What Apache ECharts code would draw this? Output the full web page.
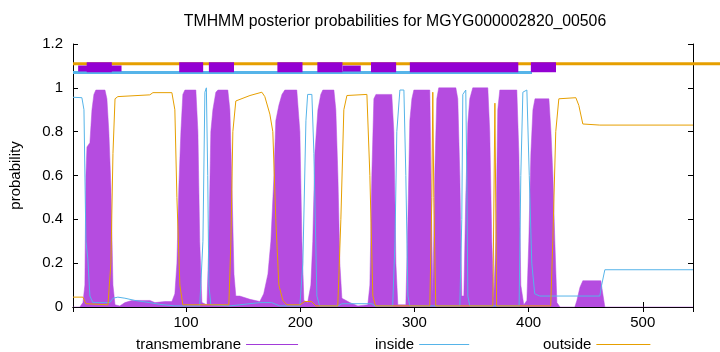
<!DOCTYPE html>
<html>
<head>
<meta charset="utf-8">
<script src="https://cdn.jsdelivr.net/npm/echarts@6/dist/echarts.min.js"></script>
<style>
  html, body { margin: 0; padding: 0; background: #fff; }
  #chart { width: 720px; height: 352px; }
</style>
</head>
<body>
<div id="chart"></div>
<script>
// posterior probabilities, [residue, probability]
var transmembrane = [[1,0],[7,0],[9.7,0.02],[11.4,0.1],[12.3,0.6],[13.2,0.73],[15.8,0.75],[17.6,0.9],[19.3,0.97],[21,0.99],[29,0.99],[30.7,0.95],[32.4,0.8],[34.2,0.55],[36,0.1],[37.8,0.01],[42,0.005],[46.5,0.02],[52.6,0.03],[68.3,0.03],[72.7,0.02],[81.5,0.025],[87.6,0.025],[90.2,0.06],[92,0.2],[93.7,0.55],[95.5,0.8],[97.2,0.97],[99,0.99],[108.6,0.99],[110.4,0.8],[112,0.3],[113.9,0.02],[118.3,0.01],[120,0.3],[121.7,0.8],[123.5,0.9],[126.1,0.98],[127.9,0.99],[136.6,0.99],[138.4,0.9],[140,0.6],[142,0.15],[143.6,0.05],[147,0.05],[156,0.035],[164.6,0.025],[168,0.06],[171.7,0.15],[174.3,0.3],[177,0.6],[178.6,0.85],[181.3,0.92],[184,0.97],[186.5,0.99],[197,0.99],[199.7,0.8],[201.5,0.3],[203.2,0.03],[206.5,0.02],[209.3,0.1],[211,0.3],[212.8,0.7],[215.5,0.9],[218,0.97],[219.8,0.99],[229.5,0.99],[231.2,0.9],[233,0.6],[234.7,0.2],[236.5,0.04],[243.5,0.02],[250.5,0.005],[259.2,0.01],[261,0.1],[262.7,0.6],[264.5,0.95],[266.3,0.97],[280.2,0.97],[282,0.8],[283.8,0.2],[285.5,0.01],[292.5,0.01],[294.3,0.4],[296,0.85],[297.8,0.95],[299.5,0.99],[313.5,0.99],[314.8,0.5],[316.1,0.05],[317.8,0.6],[319.6,0.95],[321.3,1],[336.3,1],[338,0.95],[339.8,0.6],[341.5,0.05],[343.3,0.05],[345,0.5],[346.8,0.84],[348.5,0.95],[351.1,1],[364.3,1],[366,0.8],[367.8,0.3],[369.5,0.04],[371.3,0.3],[373,0.9],[374.8,0.99],[389.7,0.99],[391.5,0.7],[393.2,0.1],[395.8,0.01],[398.5,0.03],[400.2,0.3],[402,0.7],[403.8,0.9],[405.6,0.95],[417.8,0.95],[419.6,0.8],[421.3,0.6],[423,0.3],[424.8,0.02],[427.5,0],[440.5,0],[442.3,0.03],[445,0.09],[447.5,0.12],[463.3,0.12],[465,0.06],[466.8,0],[544,0]];

var inside = [[1,0.957],[8.8,0.955],[10.6,0.9],[12.3,0.3],[14,0.22],[15.8,0.05],[18.4,0.02],[33.3,0.02],[36,0.04],[40.3,0.045],[46.5,0.04],[55.2,0.03],[68.3,0.02],[77,0.012],[90.2,0.005],[112,0.005],[114.8,0.3],[116.5,0.98],[117.8,1],[119,0.6],[120,0.1],[121.7,0.01],[138.4,0.005],[147,0.01],[164.6,0.02],[175,0.02],[182,0.005],[199.7,0.005],[202.3,0.2],[205,0.85],[206.5,0.97],[210.2,0.97],[212,0.7],[214.6,0.05],[217,0.005],[232.9,0.005],[236.5,0.015],[262.7,0.015],[265.4,0.005],[281,0.005],[283,0.3],[284.6,0.8],[287.3,0.99],[290.8,0.99],[292.5,0.6],[294.3,0.05],[296,0.005],[339.8,0.005],[341.5,0.4],[342.4,0.97],[345,0.99],[345.9,0.6],[346.8,0.05],[348.5,0.005],[391.7,0.005],[393.2,0.6],[395,0.98],[398.5,0.99],[400.6,0.6],[402.8,0.2],[405.4,0.06],[409.8,0.05],[462.4,0.05],[464,0.1],[466.8,0.17],[544,0.17]];

var outside = [[1,0.045],[9.7,0.045],[12.3,0.015],[14,0.01],[31.6,0.01],[34.2,0.2],[36,0.7],[37.8,0.95],[40.3,0.96],[68.3,0.968],[71,0.978],[87.6,0.978],[90.2,0.9],[92,0.5],[94.6,0.1],[97.2,0.01],[137.5,0.01],[139.3,0.3],[141,0.8],[143.6,0.94],[156,0.965],[166.4,0.98],[169,0.96],[173.4,0.88],[176,0.8],[178.6,0.4],[181.3,0.1],[184.8,0.03],[188.3,0.01],[199.7,0.01],[204,0.025],[210,0.025],[213.7,0.005],[232.9,0.005],[235.6,0.4],[238.2,0.9],[240.9,0.965],[258.4,0.97],[261,0.6],[263.6,0.05],[266,0.005],[313.5,0.005],[315.3,0.5],[316.1,0.98],[317,0.5],[318.7,0.005],[368.7,0.005],[370.5,0.93],[372,0.005],[419.4,0.005],[421.2,0.3],[423.8,0.8],[426.5,0.95],[441.4,0.955],[444,0.92],[447.5,0.835],[462.4,0.83],[544,0.83]];

// predicted topology segments, [start, end]
var outsideSeg = [[1,569]];
var insideSeg = [[1,403]];
var tmSeg = [[13,35],[94,115],[120,142],[180,202],[215,237],[262,284],[296,391],[402,424]];
var tmThinSeg = [[5.5,43.5],[237,253]];

function band(level, thick, color) {
  return function (params, api) {
    var p0 = api.coord([api.value(0), level]);
    var p1 = api.coord([api.value(1), level]);
    return {
      type: 'rect',
      shape: { x: p0[0], y: p0[1] - thick / 2, width: p1[0] - p0[0], height: thick },
      style: { fill: color }
    };
  };
}

var font = 'Liberation Sans';
var chart = echarts.init(document.getElementById('chart'));

var option = {
  animation: false,
  textStyle: { fontFamily: font },
  graphic: [{
    type: 'text', x: 395, y: 22,
    style: { text: 'TMHMM posterior probabilities for MGYG000002820_00506', fontSize: 15.8, fontFamily: font,
      fill: '#000', align: 'center', verticalAlign: 'middle' }
  }],
  legend: [
    { data: [{ name: 'transmembrane' }], left: 131, top: 332, align: 'right', icon: 'rect', itemWidth: 52, itemHeight: 1,
      textStyle: { fontSize: 15, fontFamily: font, color: '#000' } },
    { data: [{ name: 'inside' }], left: 370, top: 332, align: 'right', icon: 'rect', itemWidth: 50, itemHeight: 1,
      textStyle: { fontSize: 15, fontFamily: font, color: '#000' } },
    { data: [{ name: 'outside' }], left: 538, top: 332, align: 'right', icon: 'rect', itemWidth: 54, itemHeight: 1,
      textStyle: { fontSize: 15, fontFamily: font, color: '#000' } }
  ],
  grid: { left: 73, right: 27, top: 44, bottom: 45 },
  xAxis: [
    { type: 'value', min: 1, max: 544, splitNumber: 5,
      axisLine: { lineStyle: { color: '#000' } },
      axisTick: { inside: true, length: 5, lineStyle: { color: '#000' } },
      axisLabel: { color: '#000', fontSize: 15, margin: 8, showMinLabel: false, showMaxLabel: false },
      splitLine: { show: false } },
    { type: 'value', position: 'top', min: 1, max: 544, splitNumber: 5,
      axisLine: { show: true, lineStyle: { color: '#000' } },
      axisTick: { inside: true, length: 5, lineStyle: { color: '#000' } },
      axisLabel: { show: false }, splitLine: { show: false } }
  ],
  yAxis: [
    { type: 'value', min: 0, max: 1.2, interval: 0.2,
      name: 'probability', nameLocation: 'middle', nameGap: 50, nameRotate: 90,
      nameTextStyle: { fontSize: 15, color: '#000', fontFamily: font },
      axisLine: { show: true, lineStyle: { color: '#000' } },
      axisTick: { inside: true, length: 5, lineStyle: { color: '#000' } },
      axisLabel: { color: '#000', fontSize: 15, margin: 10 },
      splitLine: { show: false } },
    { type: 'value', position: 'right', min: 0, max: 1.2, interval: 0.2,
      axisLine: { show: true, lineStyle: { color: '#000' } },
      axisTick: { inside: true, length: 5, lineStyle: { color: '#000' } },
      axisLabel: { show: false }, splitLine: { show: false } }
  ],
  series: [
    { name: 'transmembrane', type: 'line', data: transmembrane, showSymbol: false, z: 1,
      itemStyle: { color: '#a23bd9' },
      lineStyle: { width: 0.5, color: '#b54ce0' },
      areaStyle: { color: '#b54ce0', opacity: 1 } },
    { name: 'inside', type: 'line', data: inside, showSymbol: false, z: 3,
      itemStyle: { color: '#56b4e9' }, lineStyle: { width: 1, color: '#56b4e9' } },
    { name: 'outside', type: 'line', data: outside, showSymbol: false, z: 3,
      itemStyle: { color: '#e69f00' }, lineStyle: { width: 1, color: '#e69f00' } },
    { name: 'outsideSeg', type: 'custom', data: outsideSeg, clip: false, z: 4,
      renderItem: band(1.11, 3, '#e69f00') },
    { name: 'insideSeg', type: 'custom', data: insideSeg, clip: false, z: 4,
      renderItem: band(1.07, 3, '#56b4e9') },
    { name: 'tmThinSeg', type: 'custom', data: tmThinSeg, clip: false, z: 5,
      renderItem: band(1.088, 6, '#9400d3') },
    { name: 'tmSeg', type: 'custom', data: tmSeg, clip: false, z: 6,
      renderItem: band(1.094, 10, '#9400d3') }
  ]
};

chart.setOption(option);
</script>
</body>
</html>
